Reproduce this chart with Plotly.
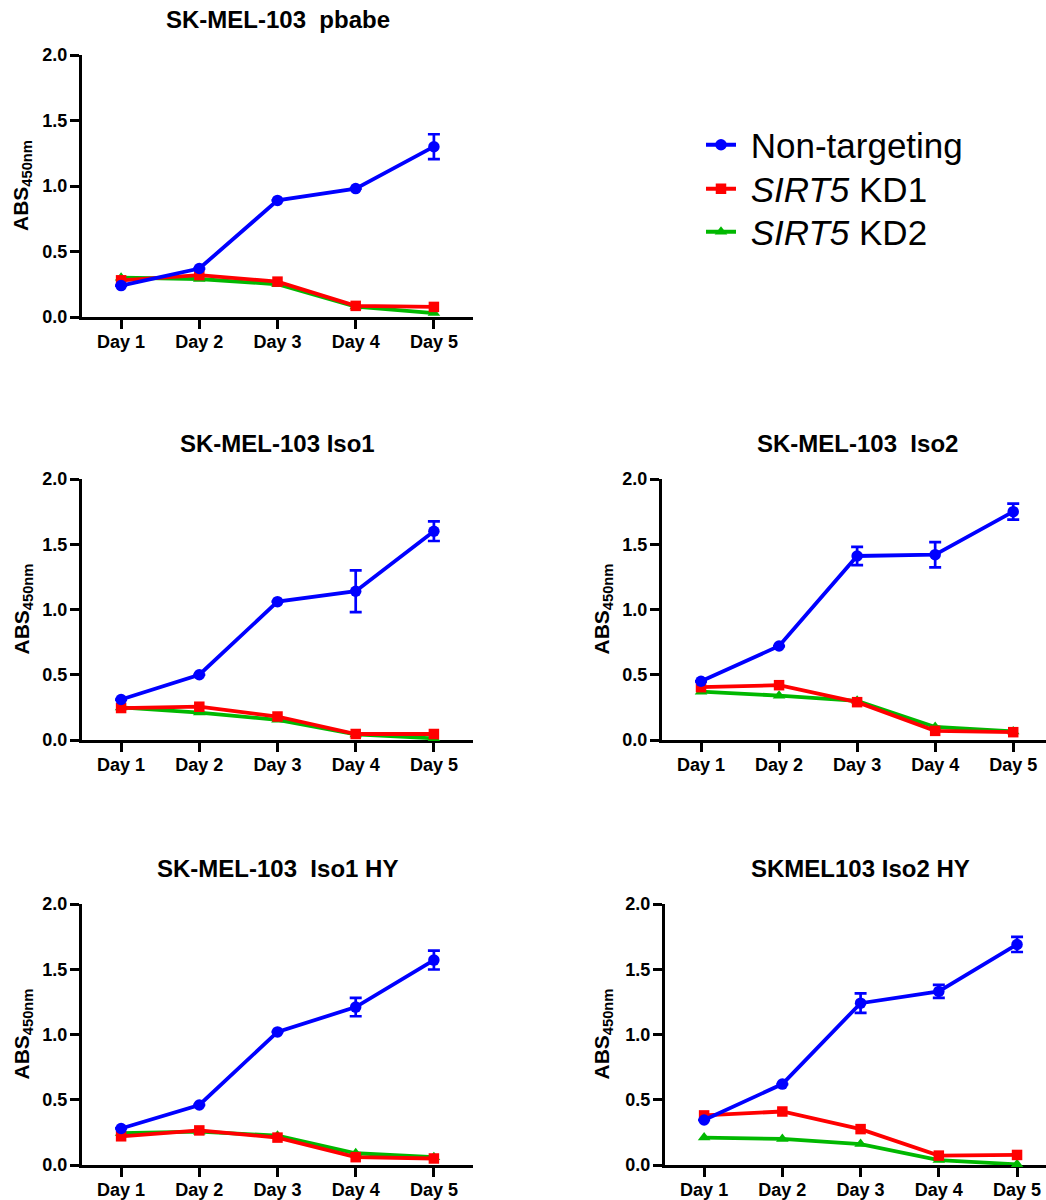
import plotly.graph_objects as go

# ---- data -------------------------------------------------------------
days = ["Day 1", "Day 2", "Day 3", "Day 4", "Day 5"]

panel_titles = [
    "SK-MEL-103\u00a0 pbabe",
    "SK-MEL-103 Iso1",
    "SK-MEL-103\u00a0 Iso2",
    "SK-MEL-103\u00a0 Iso1 HY",
    "SKMEL103 Iso2 HY",
]

series_names = ["Non-targeting", "<i>SIRT5</i> KD1", "<i>SIRT5</i> KD2"]

# Non-targeting (mean and SEM)
nt_pbabe = [0.24, 0.37, 0.89, 0.98, 1.30]
nt_pbabe_err = [0, 0, 0, 0, 0.095]
nt_iso1 = [0.31, 0.50, 1.06, 1.14, 1.60]
nt_iso1_err = [0, 0, 0, 0.16, 0.075]
nt_iso2 = [0.45, 0.72, 1.41, 1.42, 1.75]
nt_iso2_err = [0, 0, 0.07, 0.097, 0.062]
nt_iso1hy = [0.28, 0.46, 1.02, 1.21, 1.57]
nt_iso1hy_err = [0, 0, 0, 0.07, 0.072]
nt_iso2hy = [0.345, 0.62, 1.24, 1.33, 1.69]
nt_iso2hy_err = [0, 0, 0.075, 0.05, 0.058]

# SIRT5 KD1
kd1_pbabe = [0.28, 0.32, 0.27, 0.085, 0.077]
kd1_iso1 = [0.245, 0.255, 0.18, 0.046, 0.046]
kd1_iso2 = [0.405, 0.42, 0.29, 0.07, 0.06]
kd1_iso1hy = [0.22, 0.265, 0.21, 0.06, 0.05]
kd1_iso2hy = [0.38, 0.41, 0.275, 0.072, 0.077]

# SIRT5 KD2
kd2_pbabe = [0.30, 0.29, 0.25, 0.08, 0.03]
kd2_iso1 = [0.25, 0.21, 0.155, 0.043, 0.013]
kd2_iso2 = [0.37, 0.34, 0.30, 0.10, 0.065]
kd2_iso1hy = [0.245, 0.255, 0.225, 0.09, 0.06]
kd2_iso2hy = [0.21, 0.20, 0.16, 0.038, 0.005]

y_ticks = [0.0, 0.5, 1.0, 1.5, 2.0]

panels = [
    (nt_pbabe, nt_pbabe_err, kd1_pbabe, kd2_pbabe),
    (nt_iso1, nt_iso1_err, kd1_iso1, kd2_iso1),
    (nt_iso2, nt_iso2_err, kd1_iso2, kd2_iso2),
    (nt_iso1hy, nt_iso1hy_err, kd1_iso1hy, kd2_iso1hy),
    (nt_iso2hy, nt_iso2hy_err, kd1_iso2hy, kd2_iso2hy),
]

# ---- page geometry (pixels) -----------------------------------------
W, H = 1046, 1200
FONT = "Liberation Sans, Arial, sans-serif"
BLUE, RED, GREEN = "#0000FF", "#FF0000", "#00B800"

# (x_left, x_right, y_top, y_bottom, x_range_end)
boxes = [
    (82, 473, 55, 317, 4.5),
    (82, 473, 479, 740, 4.5),
    (662, 1046, 479, 740, 4.42),
    (82, 473, 904, 1165, 4.5),
    (665, 1046, 904, 1165, 4.37),
]
ytitle_x = [22, 22, 602, 22, 602]

# one legend per series so each row sits at its own height
legend_rows = {"legend": 145, "legend2": 189, "legend3": 232}


def legend_box(row_y):
    return dict(
        x=701 / W, y=1 - row_y / H, xanchor="left", yanchor="middle",
        font=dict(family=FONT, size=35, color="black"),
        itemwidth=30, bgcolor="rgba(0,0,0,0)", borderwidth=0,
    )


fig = go.Figure()
layout = dict(
    width=W, height=H, autosize=False,
    margin=dict(l=0, r=0, t=0, b=0, autoexpand=False),
    plot_bgcolor="white", paper_bgcolor="white",
    font=dict(family=FONT, color="black"),
    showlegend=True,
)
for key, row_y in legend_rows.items():
    layout[key] = legend_box(row_y)

annotations = []

for i, ((nt, nt_err, kd1, kd2), (xl, xr, yt, yb, xend), tx) in enumerate(
        zip(panels, boxes, ytitle_x)):
    n = "" if i == 0 else str(i + 1)
    xa, ya = "x" + n, "y" + n
    first = i == 0

    # drawing order: KD2 underneath, KD1, then Non-targeting on top
    fig.add_trace(go.Scatter(
        x=days, y=kd2, xaxis=xa, yaxis=ya, name="\u00a0" + series_names[2],
        mode="lines+markers", showlegend=first, legend="legend3",
        line=dict(color=GREEN, width=3.8),
        marker=dict(symbol="triangle-up", size=11, color=GREEN),
        cliponaxis=False,
    ))
    fig.add_trace(go.Scatter(
        x=days, y=kd1, xaxis=xa, yaxis=ya, name="\u00a0" + series_names[1],
        mode="lines+markers", showlegend=first, legend="legend2",
        line=dict(color=RED, width=3.8),
        marker=dict(symbol="square", size=10.5, color=RED),
        cliponaxis=False,
    ))
    fig.add_trace(go.Scatter(
        x=days, y=nt, xaxis=xa, yaxis=ya, name="\u00a0" + series_names[0],
        mode="lines+markers", showlegend=first, legend="legend",
        line=dict(color=BLUE, width=3.8),
        marker=dict(symbol="circle", size=11.5, color=BLUE),
        error_y=dict(type="data", array=nt_err, visible=True,
                     color=BLUE, thickness=2.7, width=6),
        cliponaxis=False,
    ))

    axis_common = dict(
        showline=True, linewidth=3.2, linecolor="black",
        ticks="outside", tickwidth=3.2, ticklen=9, tickcolor="black",
        showgrid=False, zeroline=False, layer="below traces",
        automargin=False,
        tickfont=dict(family=FONT, size=18, color="black", weight="bold"),
    )
    layout["xaxis" + n] = dict(
        axis_common, domain=[xl / W, xr / W], anchor=ya,
        type="category", categoryorder="array", categoryarray=days,
        range=[-0.5, xend], ticklabelstandoff=-3,
    )
    layout["yaxis" + n] = dict(
        axis_common, domain=[1 - yb / H, 1 - yt / H], anchor=xa,
        range=[0, 2.0], tickvals=y_ticks, tickformat=".1f",
        ticklabelstandoff=-1,
    )

    # panel title, centred on the full category axis
    span = (xr - xl) / (xend + 0.5) * 5.0
    annotations.append(dict(
        text="<b>" + panel_titles[i] + "</b>",
        xref="paper", yref="paper",
        x=(xl + span / 2) / W, y=1 - (yt - 36) / H,
        xanchor="center", yanchor="middle", showarrow=False,
        font=dict(family=FONT, size=24, color="black"),
    ))
    # y-axis title
    annotations.append(dict(
        text="<b>ABS<sub>450nm</sub></b>",
        xref="paper", yref="paper",
        x=tx / W, y=1 - (yt + yb) / 2 / H,
        xanchor="center", yanchor="middle", showarrow=False,
        textangle=-90,
        font=dict(family=FONT, size=21, color="black"),
    ))

layout["annotations"] = annotations
fig.update_layout(**layout)
fig.write_html("out.html")
